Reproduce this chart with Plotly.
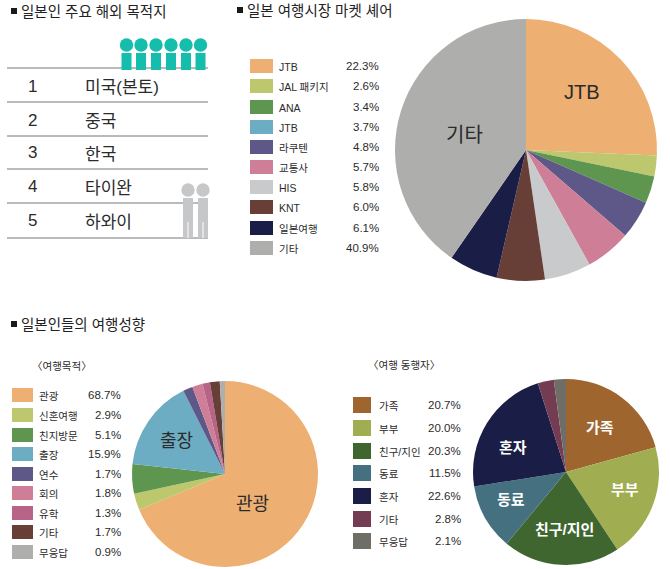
import plotly.graph_objects as go

W, H = 670, 569
FONT = "Liberation Sans, Noto Sans CJK KR"
DARK = "#2b2b2b"

# top table
ranks = ["1", "2", "3", "4", "5"]
destinations = ["미국(본토)", "중국", "한국", "타이완", "하와이"]

# market share
share_labels = ["JTB", "JAL 패키지", "ANA", "JTB", "라쿠텐", "교통사", "HIS", "KNT", "일본여행", "기타"]
share_values = [22.3, 2.6, 3.4, 3.7, 4.8, 5.7, 5.8, 6.0, 6.1, 40.9]
share_colors = ["#EDAF72", "#BDC76D", "#5E9650", "#6CADC4", "#5D5887",
                "#CF7E98", "#C9CACC", "#673F37", "#1A1D45", "#AEAFAC"]

# purpose of travel
purpose_labels = ["관광", "신혼여행", "친지방문", "출장", "연수", "회의", "유학", "기타", "무응답"]
purpose_values = [68.7, 2.9, 5.1, 15.9, 1.7, 1.8, 1.3, 1.7, 0.9]
purpose_colors = ["#EDAF72", "#BDC76D", "#5E9650", "#6CADC4", "#5D5887",
                  "#CF7E98", "#B86488", "#673F37", "#AEAFAC"]

# travel companions
company_labels = ["가족", "부부", "친구/지인", "동료", "혼자", "기타", "무응답"]
company_values = [20.7, 20.0, 20.3, 11.5, 22.6, 2.8, 2.1]
company_colors = ["#9E652F", "#A0AD50", "#406630", "#45707F", "#1A1D45", "#743C52", "#6E6E66"]

fig = go.Figure()
shapes = []
notes = []


def px(x):
    return x / W


def py(y):
    return 1 - y / H


def add_pie(labels, values, colors, cx, cy, r):
    fig.add_trace(go.Pie(
        labels=labels,
        values=values,
        sort=False,
        direction="clockwise",
        rotation=0,
        textinfo="none",
        hole=0,
        marker=dict(colors=colors, line=dict(width=0)),
        domain=dict(x=[px(cx - r), px(cx + r)], y=[py(cy + r), py(cy - r)]),
        showlegend=False,
    ))


def text(x, y, s, size=11, color=DARK, anchor="left", bold=False):
    # annotations carry about 2px of padding, take it back so x is the ink edge
    nudge = {"left": -2, "right": 2, "center": 0}[anchor]
    notes.append(dict(
        x=px(x + nudge), y=py(y), xref="paper", yref="paper",
        text=f"<b>{s}</b>" if bold else s,
        showarrow=False, xanchor=anchor, yanchor="middle",
        font=dict(family=FONT, size=size, color=color),
    ))


def rect(x0, y0, x1, y1, color):
    shapes.append(dict(type="rect", xref="paper", yref="paper",
                       x0=px(x0), x1=px(x1), y0=py(y0), y1=py(y1),
                       fillcolor=color, line=dict(width=0)))


def circle(cx, cy, r, color):
    shapes.append(dict(type="circle", xref="paper", yref="paper",
                       x0=px(cx - r), x1=px(cx + r), y0=py(cy - r), y1=py(cy + r),
                       fillcolor=color, line=dict(width=0)))


def legend(labels, values, colors, centers, sw_x, sw_w, sw_h, label_x, value_x):
    for name, val, col, yc in zip(labels, values, colors, centers):
        rect(sw_x, yc - sw_h / 2, sw_x + sw_w, yc + sw_h / 2, col)
        text(label_x, yc + 1, name, size=10.5)
        text(value_x, yc, f"{val:.1f}%", size=11.5, anchor="right")


def heading(x, y, s):
    rect(x, y - 3, x + 6, y + 3, "#1a1a1a")
    text(x + 10, y + 1, s, size=14.5, color="#222222")


add_pie(share_labels, share_values, share_colors, 526, 150, 131)
add_pie(purpose_labels, purpose_values, purpose_colors, 225, 474, 93)
add_pie(company_labels, company_values, company_colors, 566, 472, 93)

heading(11, 11, "일본인 주요 해외 목적지")
heading(237, 10, "일본 여행시장 마켓 셰어")
heading(11, 324, "일본인들의 여행성향")

# table rows and the little people
for y in [68, 102, 136, 169, 203, 238]:
    shapes.append(dict(type="line", xref="paper", yref="paper",
                       x0=px(7), x1=px(208), y0=py(y), y1=py(y),
                       line=dict(color="#777777", width=1)))
for rank, dest, y in zip(ranks, destinations, [86, 120, 153, 187, 221]):
    text(32, y, rank, size=17, anchor="center")
    text(85, y + 1.5, dest, size=17)
for x in [126.5, 141, 156, 171, 186, 200.5]:
    circle(x, 45, 6.7, "#14BDAC")
    rect(x - 5, 53, x + 5, 70, "#14BDAC")
for x in [188, 203]:
    circle(x, 190, 6.7, "#C6C7C9")
    rect(x - 5, 198, x + 5, 238, "#C6C7C9")
    rect(x - 0.5, 222, x + 0.5, 238, "white")

legend(share_labels, share_values, share_colors,
       [66, 86, 107, 127, 147, 167, 187, 207, 228, 248], 250, 23, 14, 279, 379)
legend(purpose_labels, purpose_values, purpose_colors,
       [395, 415, 435, 454, 474, 493, 513, 532, 552], 12, 21, 14, 39, 121)
legend(company_labels, company_values, company_colors,
       [405, 428, 451, 473, 496, 519, 541], 353, 18, 16, 379, 461)

text(32, 366, "〈여행목적〉", size=10.5)
text(368, 365, "〈여행 동행자〉", size=10.5)

# slice captions
text(582, 92, "JTB", size=20, anchor="center")
text(464, 135, "기타", size=20, anchor="center")
text(252, 504, "관광", size=18, anchor="center")
text(176, 441, "출장", size=18, anchor="center")
text(600, 427, "가족", size=15, color="white", anchor="center", bold=True)
text(625, 489, "부부", size=15, color="white", anchor="center", bold=True)
text(564, 529, "친구/지인", size=15, color="white", anchor="center", bold=True)
text(511, 499, "동료", size=15, color="white", anchor="center", bold=True)
text(513, 447, "혼자", size=15, color="white", anchor="center", bold=True)

fig.update_layout(
    width=W,
    height=H,
    margin=dict(l=0, r=0, t=0, b=0),
    paper_bgcolor="white",
    shapes=shapes,
    annotations=notes,
    font=dict(family=FONT),
)

fig.write_html("out.html", config=dict(displayModeBar=False),
               post_script="document.body.style.margin='0';")
